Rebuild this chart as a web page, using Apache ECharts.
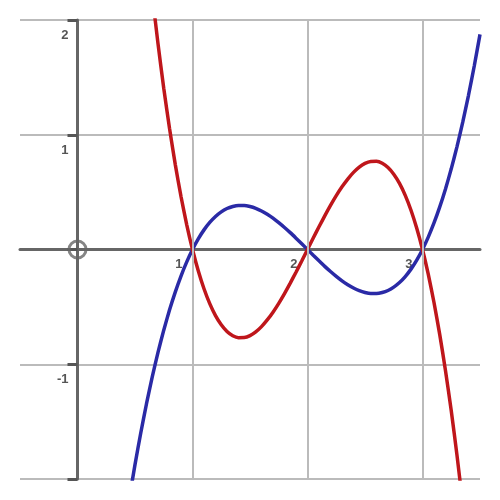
<!DOCTYPE html>
<html>
<head>
<meta charset="utf-8">
<script src="https://cdn.jsdelivr.net/npm/echarts@6/dist/echarts.min.js"></script>
<style>html,body{margin:0;padding:0;background:#fff}#c{width:500px;height:500px}</style>
</head>
<body>
<div id="c"></div>
<script>
// Blue curve samples (x, y)
var blueX = [0.4,0.45,0.5,0.55,0.6,0.65,0.7,0.75,0.8,0.85,0.9,0.95,1.0,1.05,1.1,1.15,1.2,1.25,1.3,1.35,1.4,1.45,1.5,1.55,1.6,1.65,1.7,1.75,1.8,1.85,1.9,1.95,2.0,2.05,2.1,2.15,2.2,2.25,2.3,2.35,2.4,2.45,2.5,2.55,2.6,2.65,2.7,2.75,2.8,2.85,2.9,2.95,3.0,3.05,3.1,3.15,3.2,3.25,3.3,3.35,3.4,3.45,3.5];
var blueY = [-2.496,-2.174,-1.875,-1.599,-1.344,-1.110,-0.897,-0.703,-0.528,-0.371,-0.231,-0.108,0,0.093,0.171,0.236,0.288,0.328,0.357,0.375,0.384,0.384,0.375,0.359,0.336,0.307,0.273,0.234,0.192,0.147,0.099,0.050,0,-0.050,-0.099,-0.147,-0.192,-0.234,-0.273,-0.307,-0.336,-0.359,-0.375,-0.384,-0.384,-0.375,-0.357,-0.328,-0.288,-0.236,-0.171,-0.093,0,0.108,0.231,0.371,0.528,0.703,0.897,1.110,1.344,1.599,1.875];
// Red curve samples (x, y)
var redX = [0.6,0.65,0.7,0.75,0.8,0.85,0.9,0.95,1.0,1.05,1.1,1.15,1.2,1.25,1.3,1.35,1.4,1.45,1.5,1.55,1.6,1.65,1.7,1.75,1.8,1.85,1.9,1.95,2.0,2.05,2.1,2.15,2.2,2.25,2.3,2.35,2.4,2.45,2.5,2.55,2.6,2.65,2.7,2.75,2.8,2.85,2.9,2.95,3.0,3.05,3.1,3.15,3.2,3.25,3.3,3.35,3.4];
var redY = [2.688,2.221,1.794,1.406,1.056,0.742,0.462,0.215,0,-0.185,-0.342,-0.472,-0.576,-0.656,-0.714,-0.751,-0.768,-0.767,-0.75,-0.718,-0.672,-0.614,-0.546,-0.469,-0.384,-0.293,-0.198,-0.100,0,0.100,0.198,0.293,0.384,0.469,0.546,0.614,0.672,0.718,0.75,0.767,0.768,0.751,0.714,0.656,0.576,0.472,0.342,0.185,0,-0.215,-0.462,-0.742,-1.056,-1.406,-1.794,-2.221,-2.688];
// Axis labels / grid positions
var xTickLabels = [1,2,3];
var yTickLabels = [2,1,-1];
var xGridLines = [1,2,3];
var originPoint = [[0,0]];

function zip(xs, ys){ return xs.map(function(x,i){ return [x, ys[i]]; }); }

var labelFont = {fontFamily:'Liberation Sans', fontWeight:'bold', fontSize:13, color:'#555'};

var chart = echarts.init(document.getElementById('c'));
chart.setOption({
  animation: false,
  grid: {left:20, right:20, top:20, bottom:21, containLabel:false},
  xAxis: {
    type:'value', min:-0.5, max:3.5, interval:0.5, z:2,
    position:'bottom', offset:-229.5,
    splitLine:{show:false},
    axisTick:{show:false},
    axisLine:{show:true, onZero:false, lineStyle:{color:'#666', width:3}},
    axisLabel: Object.assign({
      margin:8, align:'right', padding:[0,10,0,0],
      showMinLabel:true, showMaxLabel:true,
      formatter:function(v){ return xTickLabels.indexOf(v) >= 0 ? String(v) : ''; }
    }, labelFont)
  },
  yAxis: {
    type:'value', min:-2, max:2, interval:1, z:2,
    position:'left', offset:-57.5,
    splitLine:{show:true, lineStyle:{color:'#bbb', width:2}},
    axisTick:{show:true, length:10, lineStyle:{color:'#555', width:3}},
    axisLine:{show:true, onZero:false, lineStyle:{color:'#666', width:3}},
    axisLabel: Object.assign({
      margin:9, verticalAlign:'top', padding:[9,0,0,0],
      formatter:function(v){ return yTickLabels.indexOf(v) >= 0 ? String(v) : ''; }
    }, labelFont)
  },
  series: [
    {
      type:'line', z:1, data:[[0,0]], showSymbol:false, silent:true,
      lineStyle:{opacity:0},
      markLine:{
        silent:true, symbol:['none','none'], label:{show:false},
        lineStyle:{color:'#bbb', width:2, type:'solid'},
        data: xGridLines.map(function(v){ return {xAxis:v}; })
      }
    },
    {
      type:'line', z:3, data: zip(blueX, blueY), smooth:0.2, showSymbol:false,
      lineStyle:{color:'#2a2aa6', width:3.5}
    },
    {
      type:'line', z:4, data: zip(redX, redY), smooth:0.2, showSymbol:false,
      lineStyle:{color:'#bf161b', width:3.5}
    },
    {
      type:'scatter', z:5, data: originPoint, symbol:'circle', symbolSize:17,
      itemStyle:{color:'rgba(0,0,0,0)', borderColor:'#666', borderWidth:3}
    }
  ]
});
</script>
</body>
</html>
